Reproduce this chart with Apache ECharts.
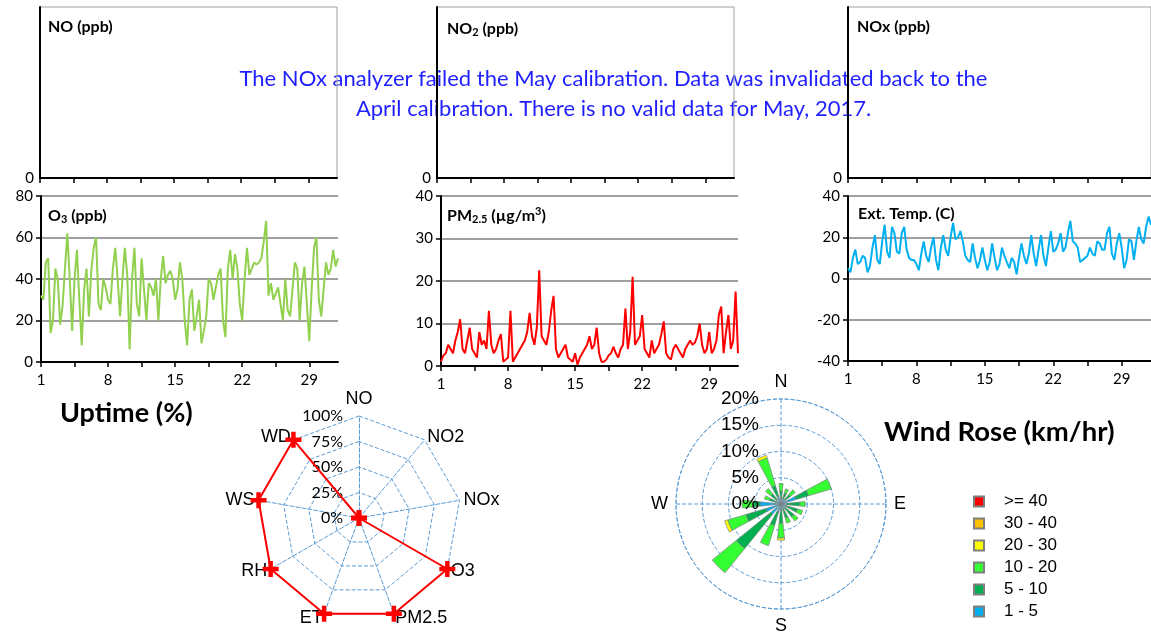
<!DOCTYPE html>
<html>
<head>
<meta charset="utf-8">
<script src="https://cdn.jsdelivr.net/npm/echarts@6/dist/echarts.min.js"></script>
<style>
html, body { margin: 0; padding: 0; background: #fff; }
#chart { width: 1151px; height: 632px; }
</style>
</head>
<body>
<div id="chart"></div>
<script>
// readings every 6 hours, x = days since the 1st
const stepDays = 0.25
const dayTicks = [0, 3.5, 7, 10.5, 14, 17.5, 21, 24.5, 28]
const dayLabelValues = [0, 7, 14, 21, 28]
const dayLabels = ['1', '8', '15', '22', '29']

// NOx analyzer invalidated -> no data
const noValues = []
const no2Values = []
const noxValues = []

const o3Values = [32, 30, 48, 50, 14, 20, 45, 40, 18, 27,
  45, 62, 40, 15, 40, 54, 30, 8, 35, 45,
  22, 44, 55, 60, 28, 25, 40, 36, 30, 28,
  45, 55, 40, 22, 40, 55, 42, 6, 40, 55,
  28, 22, 50, 35, 20, 38, 36, 32, 40, 20,
  40, 51, 38, 42, 44, 40, 30, 35, 48, 40,
  20, 8, 30, 35, 15, 22, 30, 9, 15, 22,
  40, 38, 30, 36, 42, 45, 20, 12, 45, 54,
  40, 52, 45, 28, 20, 40, 55, 42, 45, 48,
  47, 48, 50, 58, 68, 32, 38, 30, 33, 36,
  28, 20, 40, 25, 22, 35, 48, 45, 20, 38,
  46, 28, 10, 35, 55, 60, 30, 22, 35, 48,
  42, 45, 54, 46, 50]

const pm25Values = [1, 2.5, 3, 5, 4, 3, 6, 8, 11, 4,
  3, 6, 9, 4, 3, 2, 8, 5, 6, 4,
  13, 5, 3, 4, 6, 7.5, 1, 1.5, 2, 13,
  1, 2, 3, 4, 5, 6, 8, 12.5, 7, 5,
  9, 22.5, 7, 6, 5, 8, 13, 16.5, 4, 2,
  3, 4, 5, 2, 1.5, 1, 3, 0.3, 2, 3,
  4, 5, 7, 4, 5, 9, 3, 1, 1, 1.5,
  2.5, 3, 4.5, 3, 2, 4, 5, 13.5, 4, 8,
  21, 5, 6, 7, 12, 4, 3, 2, 6, 3,
  4, 5, 7.5, 10.5, 3, 2, 1.5, 4, 5, 4,
  3, 2, 4, 5, 6, 5, 5.5, 7, 10, 5,
  3, 4, 8, 3, 4, 6, 12, 14, 3, 8,
  12, 4, 6, 17.5, 3]

const tempValues = [5, 3, 10, 14, 7, 8, 11, 10, 3, 6,
  15, 21, 9, 7, 18, 26, 13, 10, 25, 22,
  13, 12, 22, 25, 14, 10, 9, 9, 7, 4,
  12, 18, 11, 8, 15, 20, 9, 4, 15, 21,
  14, 11, 20, 27, 19, 20, 23, 18, 11, 9,
  8, 17, 10, 5, 9, 15, 9, 4, 8, 17,
  10, 4, 7, 15, 11, 8, 5, 10, 8, 2,
  10, 17, 11, 7, 12, 21, 12, 6, 14, 21,
  11, 6, 15, 23, 13, 14, 17, 22, 13, 15,
  22, 28, 18, 17, 15, 8, 9, 10, 11, 15,
  12, 11, 18, 17, 14, 14, 22, 25, 12, 9,
  17, 22, 15, 5, 9, 19, 18, 9, 18, 25,
  19, 17, 25, 30, 26]

// uptime radar (listed counter-clockwise from the top)
const uptimeNames = ['NO', 'WD', 'WS', 'RH', 'ET', 'PM2.5', 'O3', 'NOx', 'NO2']
const uptimeValues = [0, 100, 100, 100, 100, 100, 100, 0, 0]

// wind rose, % of hours per direction and speed class
const windDirs = ['N', 'NNE', 'NE', 'ENE', 'E', 'ESE', 'SE', 'SSE', 'S', 'SSW', 'SW', 'WSW', 'W', 'WNW', 'NW', 'NNW']
const compassLabels = ['N', 'E', 'S', 'W']
const speedClasses = ['1 - 5', '5 - 10', '10 - 20', '20 - 30', '30 - 40', '>= 40']
const speedColors = ['#00b0f0', '#00b050', '#33ff33', '#ffff00', '#ffc000', '#ff0000']
const wind1to5 = [1.0, 1.0, 1.0, 3.0, 1.2, 1.0, 1.0, 1.0, 1.2, 1.5, 2.5, 3.0, 4.0, 1.0, 1.0, 1.5]
const wind5to10 = [1.5, 1.2, 1.3, 2.5, 2.4, 2.3, 2.2, 1.8, 2.5, 2.8, 8.5, 4.0, 1.4, 1.3, 1.5, 2.2]
const wind10to20 = [1.4, 0.8, 1.2, 4.5, 1.0, 1.0, 1.0, 1.0, 2.8, 4.0, 5.9, 3.6, 2.0, 1.0, 1.3, 5.5]
const wind20to30 = [0, 0, 0, 0, 0, 0, 0, 0, 0.4, 0, 0, 0.6, 0, 0, 0, 0.5]
const wind30to40 = [0, 0, 0, 0, 0, 0, 0, 0, 0, 0, 0, 0, 0, 0, 0, 0]
const wind40up = [0, 0, 0, 0, 0, 0, 0, 0, 0, 0, 0, 0, 0, 0, 0, 0]
const windBySpeed = [wind1to5, wind5to10, wind10to20, wind20to30, wind30to40, wind40up]

const FONT = 'Lato'
const ARIAL = 'Liberation Sans'
const GRID_GREY = '#a0a0a0'
const WEB_BLUE = '#5b9bd5'

const chart = echarts.init(document.getElementById('chart'))

function toPoints (vals) {
  return vals.map((v, i) => [i * stepDays, v])
}

function dayAxis (gi, showLabels) {
  return {
    type: 'value',
    gridIndex: gi,
    min: 0,
    max: 31,
    interval: 3.5,
    z: 3,
    axisLine: { onZero: false, lineStyle: { color: '#000', width: 2 } },
    axisTick: { show: true, length: 5, customValues: dayTicks, lineStyle: { color: '#000', width: 1.5 } },
    axisLabel: {
      show: showLabels,
      customValues: dayLabelValues,
      formatter: v => (v % 7 === 0 ? dayLabels[v / 7] : ''),
      color: '#000',
      fontSize: 15,
      fontFamily: FONT,
      margin: 11
    },
    splitLine: { show: false }
  }
}

function emptyYAxis (gi) {
  return {
    type: 'value',
    gridIndex: gi,
    min: 0,
    max: 1,
    interval: 1,
    z: 3,
    axisLine: { show: true, lineStyle: { color: '#000', width: 2 } },
    axisTick: { show: false },
    axisLabel: { formatter: v => (v === 0 ? '0' : ''), color: '#000', fontSize: 15, fontFamily: FONT, margin: 6 },
    splitLine: { show: false }
  }
}

function valueYAxis (gi, min, max, interval) {
  return {
    type: 'value',
    gridIndex: gi,
    min: min,
    max: max,
    interval: interval,
    z: 3,
    axisLine: { show: true, lineStyle: { color: '#000', width: 2 } },
    axisTick: { show: true, length: 5, lineStyle: { color: '#000', width: 1.5 } },
    axisLabel: { color: '#000', fontSize: 15, fontFamily: FONT, margin: 8 },
    splitLine: { show: true, lineStyle: { color: GRID_GREY, width: 2 } }
  }
}

function panelTitle (text, left, top) {
  return {
    text: text,
    left: left,
    top: top,
    padding: 0,
    z: 4,
    textStyle: {
      fontSize: 16,
      fontWeight: 'bold',
      fontFamily: FONT,
      color: '#000',
      rich: {
        s: { fontSize: 11, fontWeight: 'bold', fontFamily: FONT, color: '#000', verticalAlign: 'bottom', lineHeight: 19 },
        p: { fontSize: 11, fontWeight: 'bold', fontFamily: FONT, color: '#000', verticalAlign: 'top', lineHeight: 19 }
      }
    }
  }
}

function lineSeries (name, gi, vals, color) {
  return {
    name: name,
    type: 'line',
    xAxisIndex: gi,
    yAxisIndex: gi,
    data: toPoints(vals),
    showSymbol: false,
    lineStyle: { color: color, width: 2 },
    itemStyle: { color: color }
  }
}

// cross marker used by the uptime radar
const plusSymbol = 'path://M3.6,0h2.8v3.6h3.6v2.8h-3.6v3.6h-2.8v-3.6h-3.6v-2.8h3.6z'

const windSeries = speedClasses.map((name, k) => ({
  name: name,
  type: 'bar',
  coordinateSystem: 'polar',
  polarIndex: 0,
  stack: 'wind',
  barWidth: '52%',
  data: windBySpeed[k].map(v => (v > 0 ? v : '-')),
  itemStyle: { color: speedColors[k], borderColor: '#7f7f7f', borderWidth: 0.7 }
}))

const options = {
  animation: false,
  textStyle: { fontFamily: FONT },
  title: [
    panelTitle('NO (ppb)', 48, 19),
    panelTitle('NO{s|2} (ppb)', 447, 19),
    panelTitle('NOx (ppb)', 857, 19),
    panelTitle('O{s|3} (ppb)', 48, 206),
    panelTitle('PM{s|2.5} (µg/m{p|3})', 447, 206),
    panelTitle('Ext. Temp. (C)', 858, 206),
    {
      text: 'The NOx analyzer failed the May calibration. Data was invalidated back to the\nApril calibration. There is no valid data for May, 2017.',
      left: 613.5,
      top: 64,
      padding: 0,
      textAlign: 'center',
      z: 1,
      textStyle: { fontSize: 22, fontWeight: 'normal', fontFamily: FONT, color: '#1f1fff', lineHeight: 30 }
    },
    {
      text: 'Uptime (%)',
      left: 60,
      top: 400,
      padding: 0,
      textStyle: { fontSize: 27, fontWeight: 'bold', fontFamily: FONT, color: '#000' }
    },
    {
      text: 'Wind Rose (km/hr)',
      left: 884,
      top: 418,
      padding: 0,
      textStyle: { fontSize: 27.5, fontWeight: 'bold', fontFamily: FONT, color: '#000' }
    }
  ],
  grid: [
    { left: 40, top: 7, width: 297, height: 171, show: true, borderColor: GRID_GREY, borderWidth: 1, z: 2 },
    { left: 437, top: 7, width: 297, height: 171, show: true, borderColor: GRID_GREY, borderWidth: 1, z: 2 },
    { left: 848, top: 7, width: 307, height: 171, show: true, borderColor: GRID_GREY, borderWidth: 1, z: 2 },
    { left: 41, top: 196, width: 297, height: 166 },
    { left: 441, top: 196, width: 297, height: 170 },
    { left: 848, top: 196, width: 307, height: 165 }
  ],
  xAxis: [
    dayAxis(0, false),
    dayAxis(1, false),
    dayAxis(2, false),
    dayAxis(3, true),
    dayAxis(4, true),
    dayAxis(5, true)
  ],
  yAxis: [
    emptyYAxis(0),
    emptyYAxis(1),
    emptyYAxis(2),
    valueYAxis(3, 0, 80, 20),
    valueYAxis(4, 0, 40, 10),
    valueYAxis(5, -40, 40, 20)
  ],
  radar: {
    center: [359, 518],
    radius: 102,
    startAngle: 90,
    splitNumber: 4,
    shape: 'polygon',
    nameGap: 4,
    indicator: uptimeNames.map((n, i) => {
      const ind = { name: n, min: 0, max: 100 }
      if (i === 0) ind.axisLabel = { show: true }
      return ind
    }),
    axisName: { color: '#000', fontSize: 18, fontFamily: ARIAL },
    axisLine: { lineStyle: { color: WEB_BLUE, type: 'dashed', width: 1 } },
    splitLine: { lineStyle: { color: WEB_BLUE, type: 'dashed', width: 1 } },
    splitArea: { show: false },
    axisTick: { show: false },
    axisLabel: { show: false, formatter: '{value}%', color: '#000', fontSize: 16, fontFamily: FONT, margin: 16 }
  },
  polar: [
    { center: [781, 504], radius: 105 },
    { center: [781, 504], radius: 105 }
  ],
  angleAxis: [
    {
      polarIndex: 0,
      type: 'category',
      data: windDirs,
      startAngle: 101.25,
      axisLine: { show: true, lineStyle: { color: WEB_BLUE, type: 'dashed', width: 1 } },
      axisTick: { show: false },
      axisLabel: { show: false },
      splitLine: { show: false }
    },
    {
      polarIndex: 1,
      type: 'value',
      min: 0,
      max: 360,
      interval: 90,
      startAngle: 90,
      axisLine: { show: false },
      axisTick: { show: false },
      axisLabel: { formatter: v => compassLabels[v / 90] || '', color: '#000', fontSize: 18, fontFamily: ARIAL, margin: 8 },
      splitLine: { show: true, lineStyle: { color: WEB_BLUE, type: 'dashed', width: 1 } }
    }
  ],
  radiusAxis: [
    {
      polarIndex: 0,
      type: 'value',
      min: 0,
      max: 20,
      interval: 5,
      axisLine: { show: false },
      axisTick: { show: false },
      axisLabel: { show: false },
      splitLine: { show: true, lineStyle: { color: WEB_BLUE, type: 'dashed', width: 1 } }
    },
    {
      polarIndex: 1,
      type: 'value',
      min: 0,
      max: 20,
      interval: 5,
      z: 5,
      axisLine: { show: false },
      axisTick: { show: false },
      axisLabel: { formatter: '{value}%', color: '#000', fontSize: 19, fontFamily: ARIAL, margin: 22 },
      splitLine: { show: false }
    }
  ],
  legend: {
    orient: 'vertical',
    left: 973,
    top: 493,
    padding: 0,
    itemWidth: 10,
    itemHeight: 10,
    itemGap: 5,
    icon: 'rect',
    data: speedClasses.slice().reverse(),
    textStyle: { color: '#000', fontSize: 17, fontFamily: ARIAL, lineHeight: 17, padding: [0, 0, 0, 15] }
  },
  series: [
    lineSeries('NO', 0, noValues, '#000'),
    lineSeries('NO2', 1, no2Values, '#000'),
    lineSeries('NOx', 2, noxValues, '#000'),
    lineSeries('O3', 3, o3Values, '#92d050'),
    lineSeries('PM2.5', 4, pm25Values, '#ff0000'),
    lineSeries('Ext. Temp.', 5, tempValues, '#00b0f0'),
    {
      name: 'Uptime',
      type: 'radar',
      symbol: plusSymbol,
      symbolSize: 16,
      itemStyle: { color: '#ff0000' },
      lineStyle: { color: '#ff0000', width: 2 },
      data: [{ value: uptimeValues, name: 'Uptime' }]
    }
  ].concat(windSeries)
}

chart.setOption(options)
</script>
</body>
</html>
